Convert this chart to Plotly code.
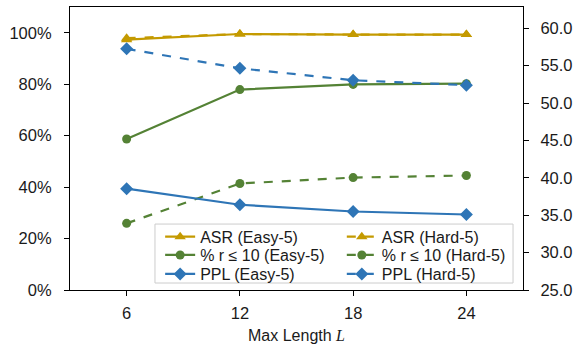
import plotly.graph_objects as go

x_len = [6, 12, 18, 24]
asr_easy = [97.3, 99.5, 99.3, 99.3]
asr_hard = [97.9, 99.5, 99.3, 99.3]
r10_easy = [58.7, 77.9, 79.9, 80.2]
r10_hard = [25.9, 41.4, 43.7, 44.5]
ppl_easy = [38.55, 36.4, 35.5, 35.1]
ppl_hard = [57.25, 54.65, 53.05, 52.4]

GOLD = "#C49A00"
GREEN = "#548235"
BLUE = "#2E75B6"

fig = go.Figure()

def add(y, name, color, dash, symbol, legend, yaxis="y", msize=9):
    fig.add_trace(go.Scatter(
        x=x_len, y=y, name=name, mode="lines+markers", yaxis=yaxis, legend=legend,
        showlegend=True,
        line=dict(color=color, width=2.2, dash=dash),
        marker=dict(symbol=symbol, size=msize, color=color),
    ))

add(asr_easy, "ASR (Easy-5)", GOLD, "solid", "triangle-up", "legend2", msize=10)
add(asr_hard, "ASR (Hard-5)", GOLD, "dash", "triangle-up", "legend3", msize=10)
add(r10_easy, "% r ≤ 10 (Easy-5)", GREEN, "solid", "circle", "legend4")
add(r10_hard, "% r ≤ 10 (Hard-5)", GREEN, "dash", "circle", "legend5")
add(ppl_easy, "PPL (Easy-5)", BLUE, "solid", "diamond", "legend6", "y2", 10)
add(ppl_hard, "PPL (Hard-5)", BLUE, "dash", "diamond", "legend7", "y2", 10)

axis_common = dict(showline=True, linecolor="black", linewidth=1.2, ticks="outside",
                   ticklen=5, tickcolor="black", showgrid=False, zeroline=False,
                   automargin=False,
                   tickfont=dict(family="Liberation Sans, Arial", size=16.5, color="#1a1a1a"))

def leg(x, y):
    return dict(x=x, y=y, yanchor="middle", xanchor="left", orientation="v",
                bgcolor="rgba(0,0,0,0)", borderwidth=0, tracegroupgap=0,
                font=dict(size=16, color="#1a1a1a"), itemwidth=30)

row_y = [0.188, 0.1235, 0.0565]
col_x = [0.199, 0.600]

fig.update_layout(
    width=579, height=344,
    margin=dict(l=70, r=56, t=7, b=54),
    plot_bgcolor="white", paper_bgcolor="white",
    font=dict(family="Liberation Sans, Arial", size=16, color="#1a1a1a"),
    xaxis=dict(range=[3, 27], tickvals=x_len, mirror=True, ticklabelstandoff=3,
               title=dict(text="Max Length <i style='font-family:Liberation Serif'>L</i>",
                          font=dict(size=16), standoff=10),
               **axis_common),
    yaxis=dict(range=[0, 110], tickvals=[0, 20, 40, 60, 80, 100], ticklabelstandoff=9,
               ticktext=["0%", "20%", "40%", "60%", "80%", "100%"], **axis_common),
    yaxis2=dict(range=[25, 62.85], overlaying="y", side="right", ticklabelstandoff=8,
                tickvals=[25, 30, 35, 40, 45, 50, 55, 60],
                ticktext=["25.0", "30.0", "35.0", "40.0", "45.0", "50.0", "55.0", "60.0"],
                **axis_common),
    showlegend=True,
    legend2=leg(col_x[0], row_y[0]),
    legend3=leg(col_x[1], row_y[0]),
    legend4=leg(col_x[0], row_y[1]),
    legend5=leg(col_x[1], row_y[1]),
    legend6=leg(col_x[0], row_y[2]),
    legend7=leg(col_x[1], row_y[2]),
    shapes=[dict(type="rect", xref="paper", yref="paper",
                 x0=0.1876, x1=0.978, y0=0.0247, y1=0.233,
                 line=dict(color="#cccccc", width=1),
                 fillcolor="rgba(255,255,255,0.8)", layer="above")],
)

fig.write_html("out.html")
